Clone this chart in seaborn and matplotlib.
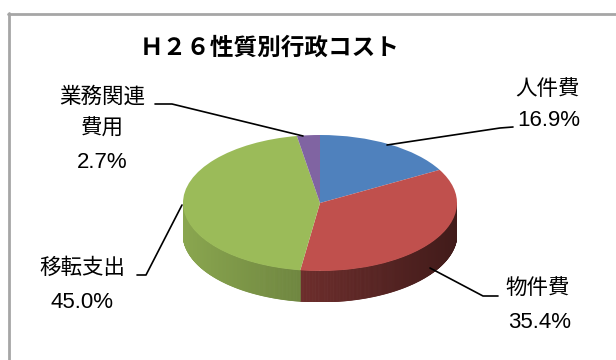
import numpy as np
import matplotlib
matplotlib.use("Agg")
import matplotlib.pyplot as plt
from matplotlib.collections import PolyCollection
from matplotlib.lines import Line2D
import seaborn as sns

# ---- data ----
title = "Ｈ２６性質別行政コスト"
categories = ["人件費", "物件費", "移転支出", "業務関連費用"]
values = [16.9, 35.4, 45.0, 2.7]
pct_labels = ["16.9%", "35.4%", "45.0%", "2.7%"]
name_lines = [["人件費"], ["物件費"], ["移転支出"], ["業務関連", "費用"]]
colors = ["#4f81bd", "#c0504d", "#9bbb59", "#8064a2"]
side_shade = [0.70, 0.74, 0.89, 0.70]

sns.set_theme(style="white")
plt.rcParams["font.family"] = ["Noto Sans CJK JP", "DejaVu Sans"]

W, H = 616, 360
fig = plt.figure(figsize=(W / 100, H / 100), dpi=100)

# pie geometry (pixels)
cx, cy, rx, ry, depth = 320, 203, 137, 68, 31
top_px, bot_px = cy - ry, cy + ry + depth
axp = fig.add_axes([(cx - rx) / W, (H - bot_px) / H, 2 * rx / W, (bot_px - top_px) / H])
d = depth / ry

wedges, _ = axp.pie(values, colors=colors, startangle=90, counterclock=False,
                    radius=1, wedgeprops=dict(linewidth=0))
for w in wedges:
    w.set_zorder(3)

# side of the pie (front half only)
total = float(sum(values))
polys, fcols = [], []
start = 90.0
for v, c, k0 in zip(values, colors, side_shade):
    span = 360.0 * v / total
    t2, t1 = start, start - span
    ts = np.linspace(t1, t2, max(int(span * 2), 2) + 1)
    base = np.array(matplotlib.colors.to_rgb(c))
    for a, b in zip(ts[:-1], ts[1:]):
        m = np.deg2rad((a + b) / 2)
        if np.sin(m) >= 0:
            continue
        ra, rb = np.deg2rad(a), np.deg2rad(b)
        xa, ya, xb, yb = np.cos(ra), np.sin(ra), np.cos(rb), np.sin(rb)
        polys.append([(xa, ya), (xb, yb), (xb, yb - d), (xa, ya - d)])
        k = k0 - 0.2 * (np.cos(m) + 1)
        fcols.append(np.clip(base * k, 0, 1))
    start = t1
pc = PolyCollection(polys, facecolors=fcols, edgecolors=fcols, linewidths=0.6, zorder=2)
axp.add_collection(pc)
axp.set_aspect("auto")
axp.set_xlim(-1, 1)
axp.set_ylim(-1 - d, 1)
axp.axis("off")

# overlay axes in pixel coordinates for text, leaders and frame
ax = fig.add_axes([0, 0, 1, 1], zorder=5)
ax.set_xlim(0, W)
ax.set_ylim(H, 0)
ax.axis("off")
ax.patch.set_visible(False)

ax.add_line(Line2D([8.5, 8.5], [13, H], color="#a6a6a6", lw=2))
ax.add_line(Line2D([8, W], [13.5, 13.5], color="#a6a6a6", lw=2))

ax.text(270, 48, title, ha="center", va="center", fontsize=17, fontweight="bold",
        color="black")

leaders = [
    [(387, 145), (500, 128), (513, 127)],
    [(430, 268), (483, 296), (498, 296)],
    [(182, 205), (146, 275), (137, 275)],
    [(303, 136), (172, 104), (155, 104)],
]
name_pos = [(548, 89), (538, 288), (82, 268), (102, 97)]
pct_pos = [(549, 121), (540, 323), (82, 303), (102, 162)]

for pts, names, (nx, ny), (px, py), pl in zip(leaders, name_lines, name_pos, pct_pos, pct_labels):
    xs, ys = zip(*pts)
    ax.add_line(Line2D(xs, ys, color="black", lw=1.2))
    for j, nm in enumerate(names):
        ax.text(nx, ny + 32 * j, nm, ha="center", va="center", fontsize=15.5, color="black")
    ax.text(px, py, pl, ha="center", va="center", fontsize=16, color="black",
            family=["Liberation Sans", "DejaVu Sans"])

fig.savefig("out.png", dpi=100)
